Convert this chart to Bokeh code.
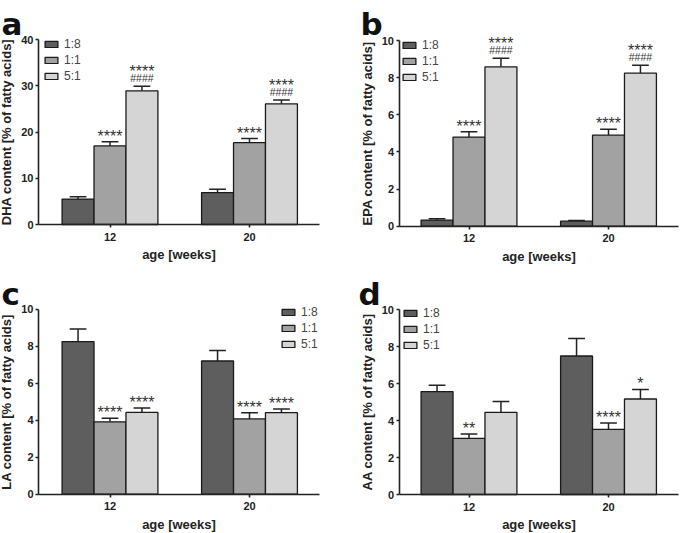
from bokeh.plotting import figure
from bokeh.models import ColumnDataSource, LabelSet, Label, FixedTicker, Range1d
from bokeh.layouts import column, row
from bokeh.embed import file_html
from bokeh.resources import INLINE
from bokeh.core.properties import value

# ---------------- data ----------------
ages = ["12", "20"]
diets = ["1:8", "1:1", "5:1"]
colors = ["#5e5e5e", "#a2a2a2", "#d5d5d5"]

# DHA (panel a)
dha_18 = [5.5, 6.9]
dha_11 = [17.0, 17.7]
dha_51 = [28.9, 26.1]
dha_18_err = [0.5, 0.72]
dha_11_err = [0.87, 0.87]
dha_51_err = [1.0, 0.8]

# EPA (panel b)
epa_18 = [0.33, 0.27]
epa_11 = [4.8, 4.9]
epa_51 = [8.58, 8.24]
epa_18_err = [0.07, 0.04]
epa_11_err = [0.28, 0.32]
epa_51_err = [0.47, 0.43]

# LA (panel c)
la_18 = [8.25, 7.2]
la_11 = [3.91, 4.07]
la_51 = [4.42, 4.41]
la_18_err = [0.68, 0.57]
la_11_err = [0.2, 0.33]
la_51_err = [0.24, 0.2]

# AA (panel d)
aa_18 = [5.57, 7.5]
aa_11 = [3.04, 3.53]
aa_51 = [4.45, 5.17]
aa_18_err = [0.34, 0.95]
aa_11_err = [0.24, 0.34]
aa_51_err = [0.59, 0.52]

# significance marks (per diet, per age)
stars_a = [["", ""], ["****", "****"], ["****", "****"]]
hash_a = [["", ""], ["", ""], ["####", "####"]]
stars_b = [["", ""], ["****", "****"], ["****", "****"]]
hash_b = [["", ""], ["", ""], ["####", "####"]]
stars_c = [["", ""], ["****", "****"], ["****", "****"]]
hash_c = [["", ""], ["", ""], ["", ""]]
stars_d = [["", ""], ["**", "****"], ["", "*"]]
hash_d = [["", ""], ["", ""], ["", ""]]

FONT = "Liberation Sans"
AX = "#222222"
BW = 0.229     # bar width in group units
CAP = 0.06     # half cap width
SPACING = 139.5  # px between the two age groups


def make_panel(letter, ylabel, ymax, ystep, means, errs, stars, hashes,
               geom, axis_px, legend_xy, letter_xy):
    fx, fy, w, h = geom
    axl, axr, g1, ytop, y0 = axis_px
    s = SPACING
    x_start = 1 - (g1 - fx) / s
    x_end = x_start + w / s
    k = (y0 - ytop) / ymax
    y_end = ymax + (ytop - fy) / k
    y_start = -(fy + h - y0) / k
    xb = (1 - (g1 - axl) / s, 1 + (axr - g1) / s)

    p = figure(width=w, height=h, x_range=Range1d(x_start, x_end),
               y_range=Range1d(y_start, y_end),
               output_backend="svg", toolbar_location=None, min_border=0)
    p.outline_line_color = None
    p.grid.visible = False
    p.background_fill_color = "white"

    gx = [i + 1 for i in range(len(ages))]
    for j, (name, col) in enumerate(zip(diets, colors)):
        off = (j - 1) * BW
        xs = [g + off for g in gx]
        et = [m + e for m, e in zip(means[j], errs[j])]
        src = ColumnDataSource(dict(
            x=xs, top=means[j], et=et,
            cl=[x - CAP for x in xs], cr=[x + CAP for x in xs],
            st=stars[j], hs=hashes[j],
            so=[9 if hh else 0 for hh in hashes[j]],
        ))
        p.segment(x0="x", y0="top", x1="x", y1="et", source=src, line_color=AX, line_width=1.5)
        p.segment(x0="cl", y0="et", x1="cr", y1="et", source=src, line_color=AX, line_width=1.5)
        p.vbar(x="x", top="top", width=BW, bottom=0, source=src, fill_color=col,
               line_color="#1a1a1a", line_width=1.3, legend_label=name)
        p.add_layout(LabelSet(x="x", y="et", text="hs", source=src, y_offset=4,
                              text_align="center", text_baseline="alphabetic",
                              text_font=value(FONT), text_font_size="10.5px",
                              text_color="#333333"))
        p.add_layout(LabelSet(x="x", y="et", text="st", source=src, y_offset="so",
                              text_align="center", text_baseline="alphabetic",
                              text_font=value(FONT), text_font_size="16px",
                              text_color="#333333"))

    # axes drawn at fixed data locations so the frame can hold the panel letter
    p.xaxis.ticker = FixedTicker(ticks=gx)
    p.xaxis.major_label_overrides = {g: a for g, a in zip(gx, ages)}
    p.yaxis.ticker = FixedTicker(ticks=list(range(0, ymax + 1, ystep)))
    p.xaxis.fixed_location = 0
    p.xaxis.bounds = xb
    p.yaxis.fixed_location = xb[0]
    p.yaxis.bounds = (0, ymax)
    for ax in (p.xaxis[0], p.yaxis[0]):
        ax.axis_line_color = AX
        ax.axis_line_width = 1.6
        ax.major_tick_line_color = AX
        ax.major_tick_line_width = 1.6
        ax.major_tick_in = 0
        ax.major_tick_out = 3
        ax.minor_tick_line_color = None
        ax.major_label_text_font = FONT
        ax.major_label_text_font_style = "bold"
        ax.major_label_text_font_size = "11px"
        ax.major_label_text_color = AX
        ax.axis_label_text_font = FONT
        ax.axis_label_text_font_style = "bold"
        ax.axis_label_text_font_size = "13px"
        ax.axis_label_text_color = AX
    p.xaxis.axis_label = "age [weeks]"
    p.xaxis.major_label_standoff = 5
    p.xaxis.axis_label_standoff = 3
    p.yaxis.axis_label = ylabel
    p.yaxis.major_label_standoff = 2
    p.yaxis.axis_label_standoff = 4

    lg = p.legend[0]
    lg.location = legend_xy
    lg.margin = 0
    lg.padding = 0
    lg.border_line_color = None
    lg.background_fill_alpha = 0
    lg.glyph_width = 16
    lg.glyph_height = 8
    lg.label_standoff = 5
    lg.label_height = 14
    lg.spacing = 2
    lg.label_text_font = FONT
    lg.label_text_font_size = "12px"
    lg.label_text_color = "#444444"

    p.add_layout(Label(x=letter_xy[0], y=letter_xy[1], x_units="screen", y_units="screen",
                       text=letter, text_font="DejaVu Sans", text_font_style="bold",
                       text_font_size="31px", text_color="#111111",
                       text_align="left", text_baseline="alphabetic"))
    return p


pa = make_panel("a", "DHA content [% of fatty acids]", 40, 10,
                [dha_18, dha_11, dha_51], [dha_18_err, dha_11_err, dha_51_err],
                stars_a, hash_a, (0, 0, 340, 265), (38, 319, 109.5, 39, 224),
                (43, 182), (1, 242))
pb = make_panel("b", "EPA content [% of fatty acids]", 10, 2,
                [epa_18, epa_11, epa_51], [epa_18_err, epa_11_err, epa_51_err],
                stars_b, hash_b, (340, 0, 339, 265), (398.5, 678, 468.5, 40, 225.7),
                (61, 181), (20, 242))
pc = make_panel("c", "LA content [% of fatty acids]", 10, 2,
                [la_18, la_11, la_51], [la_18_err, la_11_err, la_51_err],
                stars_c, hash_c, (0, 265, 340, 267), (38, 319, 109.5, 308.7, 493.7),
                (280, 181), (1, 239))
pd_ = make_panel("d", "AA content [% of fatty acids]", 10, 2,
                 [aa_18, aa_11, aa_51], [aa_18_err, aa_11_err, aa_51_err],
                 stars_d, hash_d, (340, 265, 339, 267), (398.5, 678, 468.5, 309.3, 494),
                 (62, 180), (18, 239))

layout = column(row(pa, pb), row(pc, pd_))

open("out.html", "w").write(file_html(layout, INLINE))
